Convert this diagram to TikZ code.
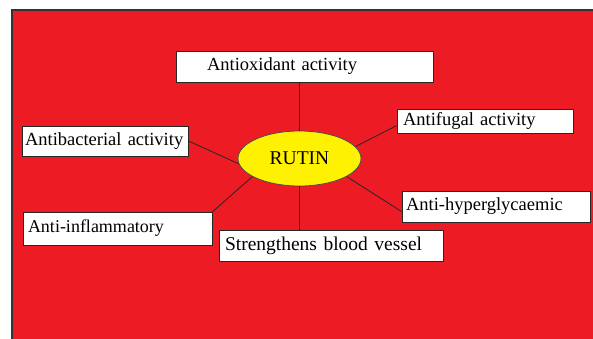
\documentclass[tikz,border=0pt]{standalone}
\usepackage{fontspec}
\setmainfont{Liberation Serif}
\usetikzlibrary{shapes.geometric}

\definecolor{bgred}{HTML}{ED1C24}
\definecolor{rutinyellow}{HTML}{FFF200}

\tikzset{
	effectbox/.style={draw=black!85, line width=1pt, fill=white, inner ysep=0pt, align=left, font=\fontsize{18.5}{22}\selectfont},
}

\begin{document}
\begin{tikzpicture}[x=1pt, y=-1pt]

	\useasboundingbox (0,0) rectangle (593,338);
	\clip (0,0) rectangle (593,338);
	\fill[white] (0,0) rectangle (593,338);
	\filldraw[fill=bgred, draw=black!80, line width=1.2pt] (12,10) rectangle (610,350);

	\node (rutin) [ellipse, draw=black!70, line width=0.8pt, fill=rutinyellow, minimum width=123pt, minimum height=55pt, inner sep=0pt, font=\fontsize{19.5}{22}\selectfont] at (299.5,158.5) {RUTIN};

	\node (antiox) [effectbox, text width=195pt, inner xsep=31pt, minimum height=31pt] at (304.5,66.5) {Antioxidant activity};
	\node (antifug) [effectbox, text width=164pt, inner xsep=6pt, minimum height=24pt] at (485,121) {Antifugal activity};
	\node (antihyper) [effectbox, text width=180pt, inner xsep=4pt, minimum height=31pt] at (496,206.5) {Anti-hyperglycaemic};
	\node (antibac) [effectbox, text width=160pt, inner xsep=3pt, minimum height=30pt] at (105,141) {Antibacterial activity};
	\node (antiinflam) [effectbox, text width=179pt, inner xsep=5pt, minimum height=33pt, font=\fontsize{18}{22}\selectfont] at (117.5,228.5) {Anti-inflammatory};
	\node (strength) [effectbox, text width=212pt, inner xsep=6pt, minimum height=31pt, font=\fontsize{19.5}{22}\selectfont] at (331,245.5) {Strengthens blood vessel};

	\path[draw=black!85, line width=0.8pt]
	(rutin.north |- antiox.south) edge (rutin.north)
	(antibac.east) edge (rutin.185)
	(rutin.12) edge (antifug.183)
	(rutin.-21) edge (antihyper.183)
	(rutin.south) edge (rutin.south |- strength.north)
	(rutin.201) edge (antiinflam.10);

\end{tikzpicture}
\end{document}
